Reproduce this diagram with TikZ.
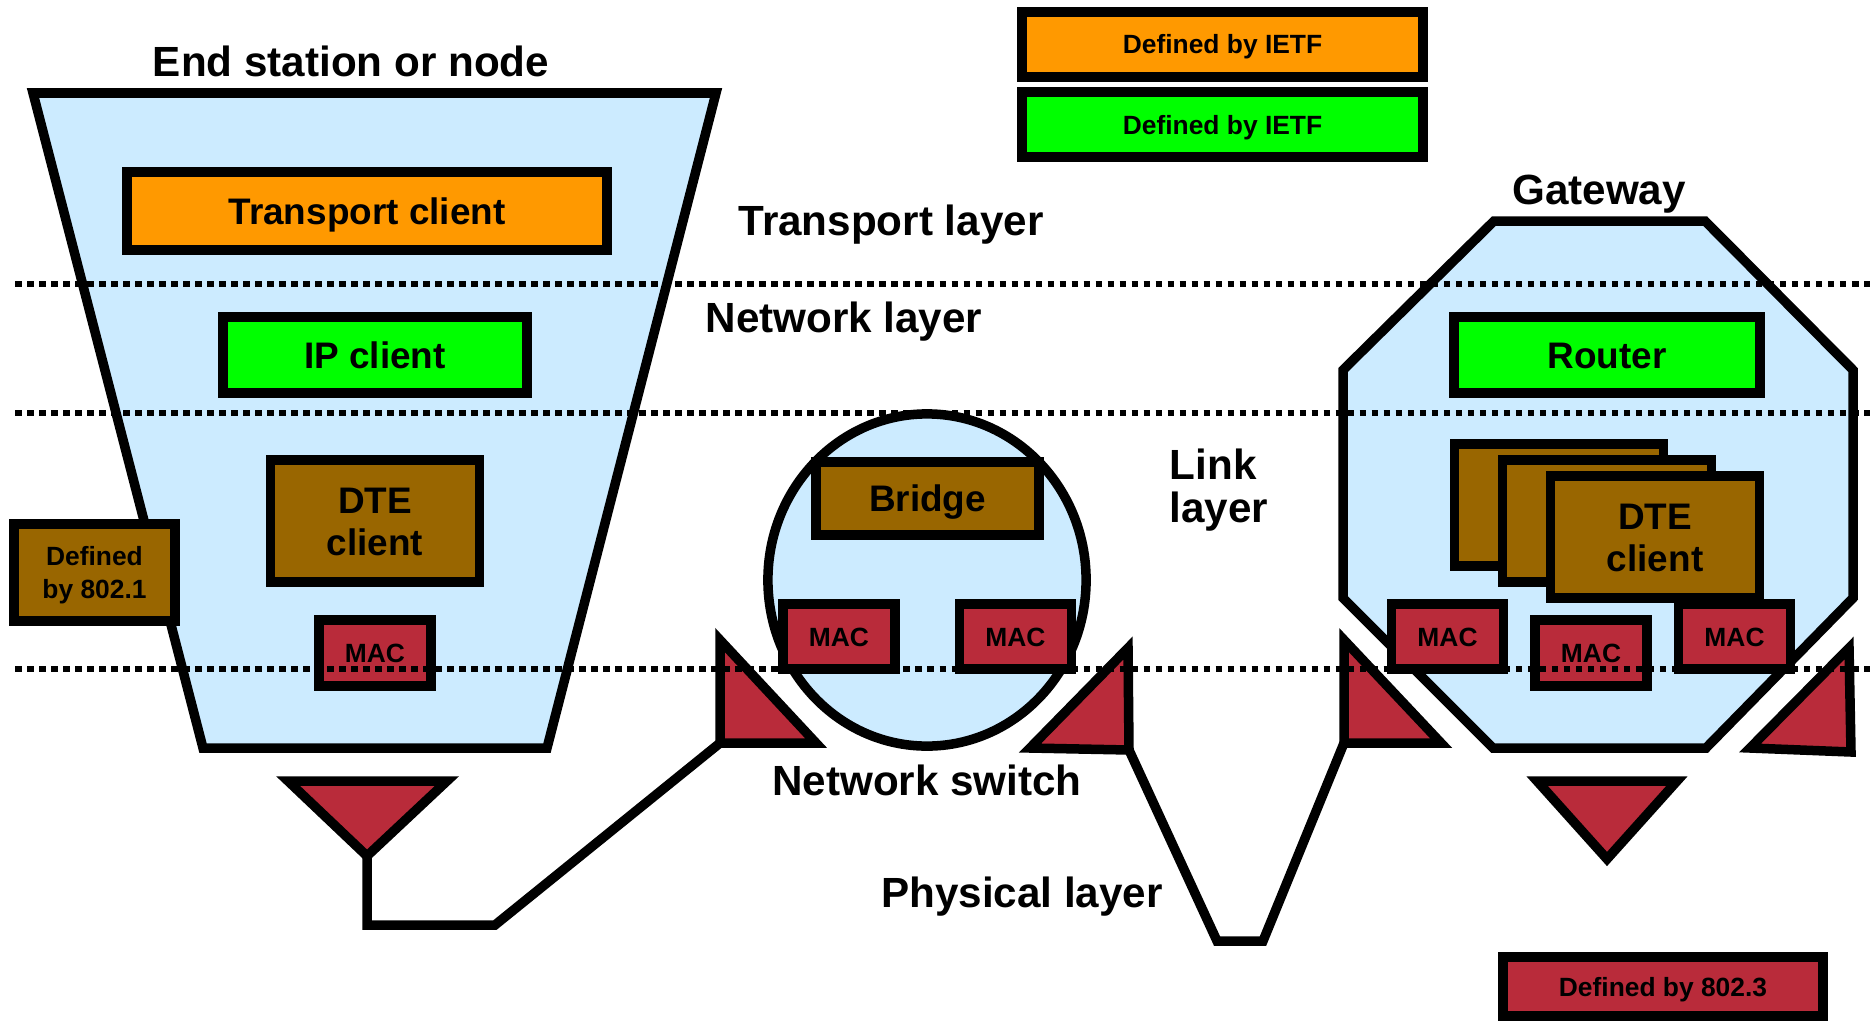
\documentclass[tikz,border=0pt]{standalone}
\usepackage{fontspec}
\setmainfont{Liberation Sans}
\usepackage{tikz}
\usetikzlibrary{positioning,shapes.geometric}
\definecolor{paleblue}{HTML}{CCEBFF}
\definecolor{ietforange}{HTML}{FF9900}
\definecolor{ietfgreen}{HTML}{00FF00}
\definecolor{dotbrown}{HTML}{996600}
\definecolor{macred}{HTML}{B92B3A}

\begin{document}
\begin{tikzpicture}[x=0.01cm,y=-0.01cm,line width=0.095cm,
    big/.style={font=\fontsize{12}{12.2}\selectfont\bfseries,inner sep=0pt,align=left,anchor=base},
    box/.style={draw,inner sep=0pt,align=center,font=\fontsize{10.5}{12}\selectfont\bfseries,text height=7.5pt,text depth=0pt},
    twoline/.style={text height=19.5pt},
    small/.style={box,font=\fontsize{7.5}{9.2}\selectfont\bfseries,text height=5.4pt},
    mac/.style={small,fill=macred,minimum width=1.12cm,minimum height=0.65cm},
    dte/.style={box,twoline,fill=dotbrown,minimum width=2.09cm,minimum height=1.22cm},
    triangle/.style={draw,fill=macred},
    layerline/.style={line width=0.052cm,dash pattern=on 0.065cm off 0.055cm}]
   \useasboundingbox (0,0) rectangle (1870,1021);
   \fill[white] (0,0) rectangle (1870,1021);

   \filldraw[fill=paleblue] (33,93) -- (716,93) -- (547,748) -- (203,748) -- cycle;
   \node[draw,ellipse,fill=paleblue,inner sep=0pt,minimum width=3.18cm,minimum height=3.32cm] (switch) at (927,580) {};
   \filldraw[fill=paleblue] (1494,221) -- (1705,221) -- (1853,370) -- (1853,598) -- (1706,748) -- (1493,748) -- (1343,598) -- (1343,370) -- cycle;

   \node[box,fill=ietforange,minimum width=4.8cm,minimum height=0.78cm] (transport) at (367,211) {Transport client};
   \node[box,fill=ietfgreen,minimum width=3.04cm,minimum height=0.76cm] (ip) at (375,355) {IP client};
   \node[dte] (dte) at (375,521) {DTE\\client};
   \node[mac,minimum height=0.66cm] (mac) at (375,653) {MAC};
   \node[small,text height=14.6pt,fill=dotbrown,minimum width=1.61cm,minimum height=0.97cm] (by8021) at (94.5,572.5) {Defined\\by 802.1};

   \node[box,fill=dotbrown,minimum width=2.23cm,minimum height=0.73cm] (bridge) at (927.5,498.5) {Bridge};
   \node[mac] (swmacl) at (839,636.5) {MAC};
   \node[mac] (swmacr) at (1015.5,636.5) {MAC};

   \node[box,fill=ietfgreen,minimum width=3.06cm,minimum height=0.76cm] (router) at (1607,355) {Router};
   \node[dte] (gdtea) at (1559,505) {};
   \node[dte,on grid,below right=0.16cm and 0.48cm of gdtea] (gdteb) {};
   \node[dte,on grid,below right=0.16cm and 0.48cm of gdteb] (gdtec) {DTE\\client};
   \node[mac] (gmaca) at (1447.5,636.5) {MAC};
   \node[mac,minimum height=0.66cm] (gmacb) at (1591,653) {MAC};
   \node[mac] (gmacc) at (1734.5,636.5) {MAC};

   \filldraw[triangle] (288,781) -- (447,781) -- (367,856) coordinate (ltip) -- cycle;
   \filldraw[triangle] (720,640) -- (720,743) coordinate (swin) -- (816,743) -- cycle;
   \filldraw[triangle] (1128,648) -- (1129,750) coordinate (swout) -- (1030,748) -- cycle;
   \filldraw[triangle] (1344,640) -- (1344,743) coordinate (gin) -- (1441,743) -- cycle;
   \filldraw[triangle] (1849,648) -- (1851,752) -- (1750,748) -- cycle;
   \filldraw[triangle] (1537,781) -- (1677,781) -- (1607,859) -- cycle;

   \draw (ltip) |- (495,925) -- (swin);
   \draw (swout) -- (1217,941) -- (1263,941) -- (gin);

   \node[small,fill=ietforange,minimum width=4.01cm,minimum height=0.65cm] (ietfa) at (1222.5,44.5) {Defined by IETF};
   \node[small,fill=ietfgreen,minimum width=4.01cm,minimum height=0.65cm,on grid,below=0.8cm of ietfa] (ietfb) {Defined by IETF};
   \node[small,fill=macred,minimum width=3.2cm,minimum height=0.59cm] (by8023) at (1663,986.5) {Defined by 802.3};

   \foreach \y in {284,413,669}
      \draw[layerline] (15,\y) -- (1870,\y);

   \node[big] (endlabel) at (351,77) {End station or node};
   \node[big] (translabel) at (891,235) {Transport layer};
   \node[big] (netlabel) at (844,332) {Network layer};
   \node[big,anchor=base west] (linklabel) at (1165,522) {Link\\layer};
   \node[big] (swlabel) at (927,795) {Network switch};
   \node[big] (phylabel) at (1022,907) {Physical layer};
   \node[big] (gwlabel) at (1599,204) {Gateway};
\end{tikzpicture}
\end{document}
